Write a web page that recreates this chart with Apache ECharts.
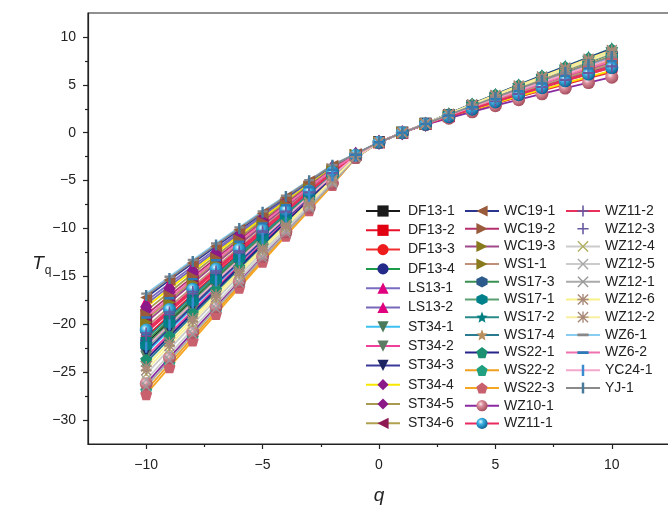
<!DOCTYPE html>
<html><head><meta charset="utf-8">
<script src="https://cdn.jsdelivr.net/npm/echarts@6/dist/echarts.min.js"></script>
<style>html,body{margin:0;padding:0;background:#fff}#c{width:668px;height:510px}</style>
</head><body><div id="c"></div>
<script>
// ---- data ----
const qValues = [-10,-9,-8,-7,-6,-5,-4,-3,-2,-1,0,1,2,3,4,5,6,7,8,9,10];
const xTickValues = [-10,-5,0,5,10];
const xMinorTicks = [-7.5,-2.5,2.5,7.5];
const yTickValues = [-30,-25,-20,-15,-10,-5,0,5,10];
const yMinorTicks = [-27.5,-22.5,-17.5,-12.5,-7.5,-2.5,2.5,7.5];

const DF13_1 = [-22.00,-19.71,-17.45,-15.21,-13.00,-10.81,-8.65,-6.51,-4.40,-2.41,-1,0,0.92,1.79,2.64,3.47,4.29,5.09,5.88,6.65,7.40];
const DF13_2 = [-21.30,-19.08,-16.89,-14.72,-12.58,-10.46,-8.37,-6.30,-4.26,-2.38,-1,0,0.88,1.63,2.36,3.07,3.77,4.45,5.12,5.77,6.40];
const DF13_3 = [-20.80,-18.63,-16.49,-14.37,-12.28,-10.21,-8.17,-6.15,-4.16,-2.36,-1,0,0.88,1.62,2.34,3.04,3.73,4.40,5.06,5.70,6.32];
const DF13_4 = [-22.50,-20.16,-17.85,-15.56,-13.30,-11.06,-8.85,-6.66,-4.50,-2.43,-1,0,0.92,1.81,2.68,3.53,4.37,5.19,6.00,6.79,7.56];
const LS13_1 = [-17.60,-15.75,-13.93,-12.13,-10.36,-8.61,-6.89,-5.19,-3.52,-2.23,-1,0,0.90,1.72,2.52,3.30,4.07,4.82,5.56,6.28,6.98];
const LS13_2 = [-17.90,-16.02,-14.17,-12.34,-10.54,-8.76,-7.01,-5.28,-3.58,-2.24,-1,0,0.90,1.75,2.58,3.39,4.19,4.97,5.74,6.49,7.22];
const ST34_1 = [-23.00,-20.61,-18.25,-15.91,-13.60,-11.31,-9.05,-6.81,-4.60,-2.45,-1,0,0.93,1.85,2.75,3.63,4.50,5.35,6.19,7.01,7.81];
const ST34_2 = [-23.40,-20.97,-18.57,-16.19,-13.84,-11.51,-9.21,-6.93,-4.68,-2.46,-1,0,0.92,1.80,2.66,3.50,4.33,5.14,5.94,6.72,7.48];
const ST34_3 = [-22.80,-20.43,-18.09,-15.77,-13.48,-11.21,-8.97,-6.75,-4.56,-2.44,-1,0,0.93,1.86,2.77,3.66,4.54,5.40,6.25,7.08,7.89];
const ST34_4 = [-18.20,-16.29,-14.41,-12.55,-10.72,-8.91,-7.13,-5.37,-3.64,-2.26,-1,0,0.88,1.64,2.38,3.10,3.81,4.50,5.18,5.84,6.48];
const ST34_5 = [-18.60,-16.65,-14.73,-12.83,-10.96,-9.11,-7.29,-5.49,-3.72,-2.27,-1,0,0.89,1.69,2.47,3.23,3.98,4.71,5.43,6.13,6.81];
const ST34_6 = [-19.50,-17.46,-15.45,-13.46,-11.50,-9.56,-7.65,-5.76,-3.90,-2.31,-1,0,0.90,1.74,2.56,3.36,4.15,4.92,5.68,6.42,7.14];
const WC19_1 = [-17.20,-15.39,-13.61,-11.85,-10.12,-8.41,-6.73,-5.07,-3.44,-2.22,-1,0,0.92,1.83,2.72,3.59,4.45,5.29,6.12,6.93,7.72];
const WC19_2 = [-19.00,-17.01,-15.05,-13.11,-11.20,-9.31,-7.45,-5.61,-3.80,-2.29,-1,0,0.91,1.77,2.61,3.43,4.24,5.03,5.81,6.57,7.31];
const WC19_3 = [-19.80,-17.73,-15.69,-13.67,-11.68,-9.71,-7.77,-5.85,-3.96,-2.32,-1,0,0.90,1.72,2.52,3.30,4.07,4.82,5.56,6.28,6.98];
const WS1_1  = [-20.30,-18.18,-16.09,-14.02,-11.98,-9.96,-7.97,-6.00,-4.06,-2.34,-1,0,0.90,1.75,2.58,3.39,4.19,4.97,5.74,6.49,7.22];
const WS17_3 = [-21.80,-19.53,-17.29,-15.07,-12.88,-10.71,-8.57,-6.45,-4.36,-2.40,-1,0,0.94,1.91,2.86,3.79,4.71,5.61,6.50,7.37,8.22];
const WS17_1 = [-22.20,-19.89,-17.61,-15.35,-13.12,-10.91,-8.73,-6.57,-4.44,-2.42,-1,0,0.93,1.87,2.79,3.69,4.58,5.45,6.31,7.15,7.97];
const WS17_2 = [-21.50,-19.26,-17.05,-14.86,-12.70,-10.56,-8.45,-6.36,-4.30,-2.39,-1,0,0.96,2.00,3.02,4.02,5.01,5.98,6.94,7.88,8.80];
const WS17_4 = [-24.00,-21.51,-19.05,-16.61,-14.20,-11.81,-9.45,-7.11,-4.80,-2.49,-1,0,0.95,1.94,2.91,3.86,4.80,5.72,6.63,7.52,8.39];
const WS22_1 = [-23.70,-21.24,-18.81,-16.40,-14.02,-11.66,-9.33,-7.02,-4.74,-2.48,-1,0,0.96,1.99,3.00,3.99,4.97,5.93,6.88,7.81,8.72];
const WS22_2 = [-26.90,-24.12,-21.37,-18.64,-15.94,-13.26,-10.61,-7.98,-5.38,-2.60,-1,0,0.94,1.88,2.80,3.70,4.59,5.46,6.32,7.16,7.98];
const WS22_3 = [-27.30,-24.48,-21.69,-18.92,-16.18,-13.46,-10.77,-8.10,-5.46,-2.62,-1,0,0.93,1.82,2.69,3.54,4.38,5.20,6.01,6.80,7.57];
const WZ10_1 = [-26.20,-23.49,-20.81,-18.15,-15.52,-12.91,-10.33,-7.77,-5.24,-2.58,-1,0,0.84,1.52,2.18,2.82,3.45,4.06,4.66,5.24,5.80];
const WZ11_1 = [-20.60,-18.45,-16.33,-14.23,-12.16,-10.11,-8.09,-6.09,-4.12,-2.35,-1,0,0.88,1.68,2.46,3.22,3.97,4.70,5.42,6.12,6.80];
const WZ11_2 = [-20.90,-18.72,-16.57,-14.44,-12.34,-10.26,-8.21,-6.18,-4.18,-2.36,-1,0,0.89,1.70,2.49,3.26,4.02,4.76,5.49,6.20,6.89];
const WZ12_3 = [-21.20,-18.99,-16.81,-14.65,-12.52,-10.41,-8.33,-6.27,-4.24,-2.38,-1,0,0.89,1.71,2.51,3.29,4.06,4.81,5.55,6.27,6.97];
const WZ12_4 = [-25.20,-22.59,-20.01,-17.45,-14.92,-12.41,-9.93,-7.47,-5.04,-2.54,-1,0,0.95,1.95,2.93,3.89,4.84,5.77,6.69,7.59,8.47];
const WZ12_5 = [-25.80,-23.13,-20.49,-17.87,-15.28,-12.71,-10.17,-7.65,-5.16,-2.56,-1,0,0.95,1.94,2.91,3.86,4.80,5.72,6.63,7.52,8.39];
const WZ12_1 = [-26.50,-23.76,-21.05,-18.36,-15.70,-13.06,-10.45,-7.86,-5.30,-2.59,-1,0,0.94,1.92,2.88,3.82,4.75,5.66,6.56,7.44,8.30];
const WZ12_6 = [-24.40,-21.87,-19.37,-16.89,-14.44,-12.01,-9.61,-7.23,-4.88,-2.50,-1,0,0.95,1.97,2.97,3.95,4.92,5.87,6.81,7.73,8.63];
const WZ12_2 = [-24.80,-22.23,-19.69,-17.17,-14.68,-12.21,-9.77,-7.35,-4.96,-2.52,-1,0,0.95,1.94,2.91,3.86,4.80,5.72,6.63,7.52,8.39];
const WZ6_1  = [-16.80,-15.03,-13.29,-11.57,-9.88,-8.21,-6.57,-4.95,-3.36,-2.20,-1,0,0.93,1.86,2.77,3.66,4.54,5.40,6.25,7.08,7.89];
const WZ6_2  = [-19.30,-17.28,-15.29,-13.32,-11.38,-9.46,-7.57,-5.70,-3.86,-2.30,-1,0,0.92,1.80,2.66,3.50,4.33,5.14,5.94,6.72,7.48];
const YC24_1 = [-22.40,-20.07,-17.77,-15.49,-13.24,-11.01,-8.81,-6.63,-4.48,-2.42,-1,0,0.92,1.83,2.72,3.59,4.45,5.29,6.12,6.93,7.72];
const YJ_1   = [-17.00,-15.21,-13.45,-11.71,-10.00,-8.31,-6.65,-5.01,-3.40,-2.21,-1,0,0.93,1.87,2.79,3.69,4.58,5.45,6.31,7.15,7.97];

const seriesNames = ['DF13-1','DF13-2','DF13-3','DF13-4','LS13-1','LS13-2','ST34-1','ST34-2','ST34-3','ST34-4','ST34-5','ST34-6',
  'WC19-1','WC19-2','WC19-3','WS1-1','WS17-3','WS17-1','WS17-2','WS17-4','WS22-1','WS22-2','WS22-3','WZ10-1','WZ11-1',
  'WZ11-2','WZ12-3','WZ12-4','WZ12-5','WZ12-1','WZ12-6','WZ12-2','WZ6-1','WZ6-2','YC24-1','YJ-1'];
const seriesValues = [DF13_1,DF13_2,DF13_3,DF13_4,LS13_1,LS13_2,ST34_1,ST34_2,ST34_3,ST34_4,ST34_5,ST34_6,
  WC19_1,WC19_2,WC19_3,WS1_1,WS17_3,WS17_1,WS17_2,WS17_4,WS22_1,WS22_2,WS22_3,WZ10_1,WZ11_1,
  WZ11_2,WZ12_3,WZ12_4,WZ12_5,WZ12_1,WZ12_6,WZ12_2,WZ6_1,WZ6_2,YC24_1,YJ_1];

// ---- styles ----
const P = {
  down: 'path://M0,0L10,0L5,10Z',
  left: 'path://M10,0L10,10L0,5Z',
  right: 'path://M0,0L10,5L0,10Z',
  hex: 'path://M5,0L9.33,2.5L9.33,7.5L5,10L0.67,7.5L0.67,2.5Z',
  star: 'path://M5,0.2L6.3,3.4L9.76,3.65L7.1,5.9L7.94,9.25L5,7.4L2.06,9.25L2.9,5.9L0.24,3.65L3.7,3.4Z',
  pent: 'path://M5,0.2L9.76,3.65L7.94,9.25L2.06,9.25L0.24,3.65Z',
  plus: 'path://M4.3,0H5.7V4.3H10V5.7H5.7V10H4.3V5.7H0V4.3H4.3Z',
  cross: 'path://M0,0.9L0.9,0L5,4.1L9.1,0L10,0.9L5.9,5L10,9.1L9.1,10L5,5.9L0.9,10L0,9.1L4.1,5Z',
  aster: 'path://M0,0.9L0.9,0L5,4.1L9.1,0L10,0.9L5.9,5L10,9.1L9.1,10L5,5.9L0.9,10L0,9.1L4.1,5Z M4.4,0H5.6V4.4H10V5.6H5.6V10H4.4V5.6H0V4.4H4.4Z',
  dash: 'path://M0,0h0.01v0.01h-0.01Z M0,3.8H10V6.2H0Z M9.99,9.99h0.01v0.01h-0.01Z',
  vbar: 'path://M0,0h0.01v0.01h-0.01Z M3.9,0H6.1V10H3.9Z M9.99,9.99h0.01v0.01h-0.01Z',
  diam: 'path://M5,0L10,6.5L5,13L0,6.5Z'
};
function sphere(light, mid, dark) {
  return {type:'radial', x:0.38, y:0.35, r:0.7, colorStops:[{offset:0,color:light},{offset:0.35,color:mid},{offset:1,color:dark}]};
}
const styleList = [
  ['#1a1a1a','rect','#1a1a1a',10],
  ['#e8102a','rect','#e00012',10],
  ['#f03030','circle','#ee1c1c',11],
  ['#1d9a48','circle','#232a8a',11],
  ['#7a6cc0','triangle','#e0007e',12],
  ['#7868b8','triangle','#e0007e',12],
  ['#3cc0f0',P.down,'#4a7a5a',12],
  ['#f0409a',P.down,'#5c7c64',12],
  ['#3a3a9a',P.down,'#1c2562',12],
  ['#f8e800',P.diam,'#8b1a88',[12,15]],
  ['#a89a50',P.diam,'#8b1a88',[12,15]],
  ['#b0a050',P.left,'#8e1a55',12],
  ['#2a3590',P.left,'#9a5a3c',12],
  ['#b4306e',P.right,'#9a5a3c',12],
  ['#a04888',P.right,'#8a7a1e',12],
  ['#c09078',P.right,'#8a7a1e',12],
  ['#3a9050',P.hex,'#2c5a8a',12],
  ['#5aa070',P.hex,'#00808a',12],
  ['#2a8a8a',P.star,'#007f80',13],
  ['#2a7a90',P.star,'#b89060',13],
  ['#24248a',P.pent,'#1a9070',12],
  ['#f0a020',P.pent,'#20a080',12],
  ['#f5a623',P.pent,'#c8606e',12],
  ['#8a2aa0','circle',sphere('#fbe8ec','#d88a98','#a04858'),13],
  ['#e82a60','circle',sphere('#e8f8ff','#3ab0e0','#0a5a8a'),13],
  ['#e8305a',P.plus,'#6858a0',11],
  [null,P.plus,'#6858a0',11],
  ['#cccccc',P.cross,'#b0b060',10],
  ['#cccccc',P.cross,'#a8a8a8',10],
  ['#aaaaaa',P.cross,'#999999',10],
  ['#f8f088',P.aster,'#a88878',11],
  ['#f8f0a0',P.aster,'#a88878',11],
  ['#88ccf0',P.dash,'#888888',10],
  ['#f070b0',P.dash,'#2c7ab8',10],
  ['#f4a8cc',P.vbar,'#3a8ad0',11],
  ['#8a8a8a',P.vbar,'#4a7a9a',11]
];

const FONT = '"Liberation Sans", Arial, sans-serif';
const minus = v => String(v).replace('-', '\u2212');

const series = seriesNames.map((name, i) => {
  const st = styleList[i];
  return {
    name: name,
    type: 'line',
    data: qValues.map((q, j) => [q, seriesValues[i][j]]),
    symbol: st[1],
    symbolSize: st[3],
    showSymbol: true,
    animation: false,
    lineStyle: st[0] ? {color: st[0], width: 1.8} : {width: 0, opacity: 0},
    itemStyle: {color: st[2], borderWidth: 0},
    emphasis: {disabled: true}
  };
});

const legendBase = {
  orient: 'vertical', itemWidth: 34, itemHeight: 14, selectedMode: false,
  textStyle: {fontFamily: FONT, fontSize: 14, color: '#222', lineHeight: 14}
};
const legends = [
  Object.assign({}, legendBase, {left: 360, top: 199, itemGap: 5.3, data: seriesNames.slice(0,12),
    textStyle: Object.assign({}, legendBase.textStyle, {padding: [0,0,0,3]})}),
  Object.assign({}, legendBase, {left: 459, top: 199, itemGap: 3.7, data: seriesNames.slice(12,25)}),
  Object.assign({}, legendBase, {left: 560, top: 199, itemGap: 3.7, data: seriesNames.slice(25)})
];

const axisCol = '#222';
const option = {
  backgroundColor: '#fff',
  animation: false,
  grid: {left: 88, top: 13, width: 582, height: 431, outerBoundsMode: 'none', show: true, borderColor: axisCol, borderWidth: 1.2, backgroundColor: 'transparent'},
  legend: legends,
  xAxis: [
    {type: 'value', min: -12.5, max: 12.5, position: 'bottom',
     axisLine: {show: true, onZero: false, lineStyle: {color: axisCol, width: 1.2}},
     axisTick: {show: true, length: 5, customValues: xTickValues, lineStyle: {color: axisCol, width: 1.2}},
     axisLabel: {customValues: xTickValues, formatter: minus, margin: 14, fontFamily: FONT, fontSize: 14, color: axisCol},
     splitLine: {show: false}},
    {type: 'value', min: -12.5, max: 12.5, position: 'bottom',
     axisLine: {show: false, onZero: false},
     axisTick: {show: true, length: 3, customValues: xMinorTicks, lineStyle: {color: axisCol, width: 1.2}},
     axisLabel: {show: false}, splitLine: {show: false}}
  ],
  yAxis: [
    {type: 'value', min: -32.5, max: 12.5, position: 'left',
     axisLine: {show: true, onZero: false, lineStyle: {color: axisCol, width: 1.2}},
     axisTick: {show: true, length: 5, customValues: yTickValues, lineStyle: {color: axisCol, width: 1.2}},
     axisLabel: {customValues: yTickValues, formatter: minus, margin: 12, fontFamily: FONT, fontSize: 14, color: axisCol},
     splitLine: {show: false}},
    {type: 'value', min: -32.5, max: 12.5, position: 'left',
     axisLine: {show: false, onZero: false},
     axisTick: {show: true, length: 3, customValues: yMinorTicks, lineStyle: {color: axisCol, width: 1.2}},
     axisLabel: {show: false}, splitLine: {show: false}}
  ],
  graphic: [
    {type: 'text', x: 38, y: 264, style: {text: 'T', font: 'italic 19px ' + FONT, fill: axisCol, align: 'center', verticalAlign: 'middle'}},
    {type: 'text', x: 48, y: 271, style: {text: 'q', font: '12px ' + FONT, fill: axisCol, align: 'center', verticalAlign: 'middle'}},
    {type: 'text', x: 379, y: 496, style: {text: 'q', font: 'italic 19px ' + FONT, fill: axisCol, align: 'center', verticalAlign: 'middle'}}
  ],
  series: series
};
const chart = echarts.init(document.getElementById('c'), null, {renderer: 'canvas'});
chart.setOption(option);
</script>
</body></html>
